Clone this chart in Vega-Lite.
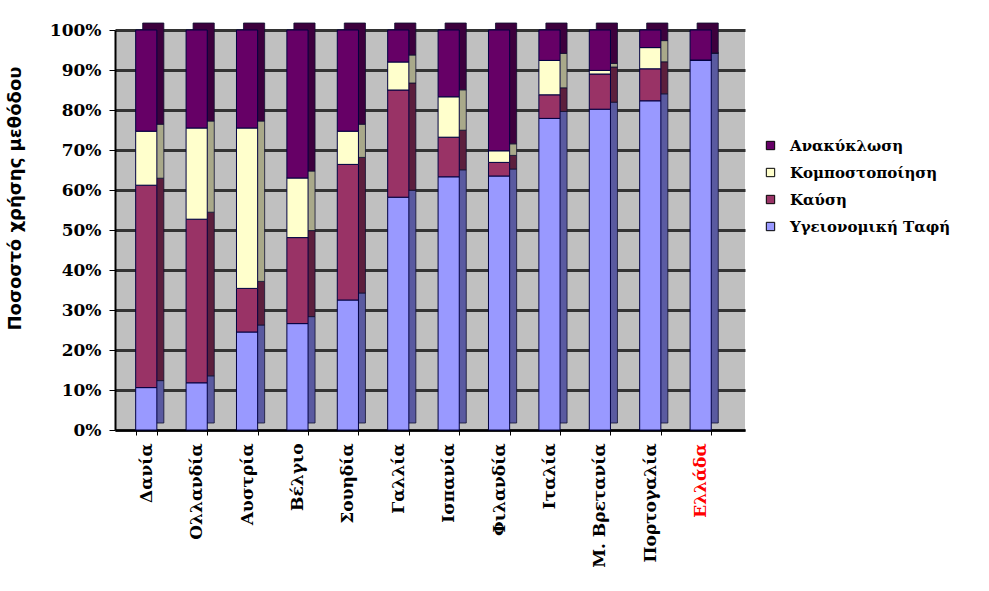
{
  "$schema": "https://vega.github.io/schema/vega-lite/v6.json",
  "autosize": "none",
  "width": 630,
  "height": 400,
  "padding": {"left": 115, "top": 30, "right": 244, "bottom": 161},
  "background": "white",
  "config": {
    "view": {"fill": "#c0c0c0", "stroke": null},
    "font": "DejaVu Serif"
  },
  "data": {
    "values": [
      {"country": "Δανία", "method": "Υγειονομική Ταφή", "value": 10.6, "ord": 1},
      {"country": "Δανία", "method": "Καύση", "value": 50.6, "ord": 2},
      {"country": "Δανία", "method": "Κομποστοποίηση", "value": 13.5, "ord": 3},
      {"country": "Δανία", "method": "Ανακύκλωση", "value": 25.3, "ord": 4},
      {"country": "Ολλανδία", "method": "Υγειονομική Ταφή", "value": 11.8, "ord": 1},
      {"country": "Ολλανδία", "method": "Καύση", "value": 40.9, "ord": 2},
      {"country": "Ολλανδία", "method": "Κομποστοποίηση", "value": 22.8, "ord": 3},
      {"country": "Ολλανδία", "method": "Ανακύκλωση", "value": 24.5, "ord": 4},
      {"country": "Αυστρία", "method": "Υγειονομική Ταφή", "value": 24.5, "ord": 1},
      {"country": "Αυστρία", "method": "Καύση", "value": 10.9, "ord": 2},
      {"country": "Αυστρία", "method": "Κομποστοποίηση", "value": 40.1, "ord": 3},
      {"country": "Αυστρία", "method": "Ανακύκλωση", "value": 24.5, "ord": 4},
      {"country": "Βέλγιο", "method": "Υγειονομική Ταφή", "value": 26.6, "ord": 1},
      {"country": "Βέλγιο", "method": "Καύση", "value": 21.5, "ord": 2},
      {"country": "Βέλγιο", "method": "Κομποστοποίηση", "value": 14.9, "ord": 3},
      {"country": "Βέλγιο", "method": "Ανακύκλωση", "value": 37.0, "ord": 4},
      {"country": "Σουηδία", "method": "Υγειονομική Ταφή", "value": 32.5, "ord": 1},
      {"country": "Σουηδία", "method": "Καύση", "value": 33.9, "ord": 2},
      {"country": "Σουηδία", "method": "Κομποστοποίηση", "value": 8.3, "ord": 3},
      {"country": "Σουηδία", "method": "Ανακύκλωση", "value": 25.3, "ord": 4},
      {"country": "Γαλλία", "method": "Υγειονομική Ταφή", "value": 58.2, "ord": 1},
      {"country": "Γαλλία", "method": "Καύση", "value": 26.8, "ord": 2},
      {"country": "Γαλλία", "method": "Κομποστοποίηση", "value": 7.0, "ord": 3},
      {"country": "Γαλλία", "method": "Ανακύκλωση", "value": 8.0, "ord": 4},
      {"country": "Ισπανία", "method": "Υγειονομική Ταφή", "value": 63.3, "ord": 1},
      {"country": "Ισπανία", "method": "Καύση", "value": 9.9, "ord": 2},
      {"country": "Ισπανία", "method": "Κομποστοποίηση", "value": 10.1, "ord": 3},
      {"country": "Ισπανία", "method": "Ανακύκλωση", "value": 16.7, "ord": 4},
      {"country": "Φιλανδία", "method": "Υγειονομική Ταφή", "value": 63.5, "ord": 1},
      {"country": "Φιλανδία", "method": "Καύση", "value": 3.4, "ord": 2},
      {"country": "Φιλανδία", "method": "Κομποστοποίηση", "value": 2.9, "ord": 3},
      {"country": "Φιλανδία", "method": "Ανακύκλωση", "value": 30.2, "ord": 4},
      {"country": "Ιταλία", "method": "Υγειονομική Ταφή", "value": 77.9, "ord": 1},
      {"country": "Ιταλία", "method": "Καύση", "value": 5.9, "ord": 2},
      {"country": "Ιταλία", "method": "Κομποστοποίηση", "value": 8.6, "ord": 3},
      {"country": "Ιταλία", "method": "Ανακύκλωση", "value": 7.6, "ord": 4},
      {"country": "Μ. Βρετανία", "method": "Υγειονομική Ταφή", "value": 80.2, "ord": 1},
      {"country": "Μ. Βρετανία", "method": "Καύση", "value": 8.8, "ord": 2},
      {"country": "Μ. Βρετανία", "method": "Κομποστοποίηση", "value": 0.9, "ord": 3},
      {"country": "Μ. Βρετανία", "method": "Ανακύκλωση", "value": 10.1, "ord": 4},
      {"country": "Πορτογαλία", "method": "Υγειονομική Ταφή", "value": 82.3, "ord": 1},
      {"country": "Πορτογαλία", "method": "Καύση", "value": 8.0, "ord": 2},
      {"country": "Πορτογαλία", "method": "Κομποστοποίηση", "value": 5.3, "ord": 3},
      {"country": "Πορτογαλία", "method": "Ανακύκλωση", "value": 4.4, "ord": 4},
      {"country": "Ελλάδα", "method": "Υγειονομική Ταφή", "value": 92.5, "ord": 1},
      {"country": "Ελλάδα", "method": "Καύση", "value": 0, "ord": 2},
      {"country": "Ελλάδα", "method": "Κομποστοποίηση", "value": 0, "ord": 3},
      {"country": "Ελλάδα", "method": "Ανακύκλωση", "value": 7.5, "ord": 4}
    ]
  },
  "encoding": {
    "x": {
      "field": "country",
      "type": "nominal",
      "sort": null,
      "scale": {"paddingInner": 0.58, "paddingOuter": 0.54, "align": 0.38},
      "axis": {
        "title": null,
        "labelAngle": -90,
        "labelAlign": "right",
        "labelBaseline": "middle",
        "labelPadding": 8,
        "labelFont": "DejaVu Serif",
        "labelFontWeight": "bold",
        "labelFontSize": 17,
        "labelColor": {"condition": {"test": "datum.value === 'Ελλάδα'", "value": "#ff0000"}, "value": "black"},
        "tickBand": "extent",
        "tickColor": "black",
        "tickSize": 5,
        "domainColor": "black",
        "domainWidth": 2,
        "grid": false
      }
    },
    "y": {
      "field": "value",
      "type": "quantitative",
      "stack": "normalize",
      "scale": {"domain": [0, 1]},
      "axis": {
        "title": "Ποσοστό χρήσης μεθόδου",
        "titleFont": "DejaVu Sans",
        "titleFontWeight": "bold",
        "titleFontSize": 18,
        "titleColor": "black",
        "titleX": -100,
        "titleY": 168,
        "titleAngle": -90,
        "titleAlign": "center",
        "titleBaseline": "middle",
        "values": [0, 0.1, 0.2, 0.3, 0.4, 0.5, 0.6, 0.7, 0.8, 0.9, 1],
        "format": ".0%",
        "labelFont": "DejaVu Serif",
        "labelFontWeight": "bold",
        "labelFontSize": 17,
        "labelColor": "black",
        "labelPadding": 8,
        "tickColor": "black",
        "tickSize": 6,
        "domainColor": "black",
        "domainWidth": 2,
        "grid": true,
        "gridColor": "#333333",
        "gridWidth": 3
      }
    },
    "order": {"field": "ord", "type": "quantitative"}
  },
  "layer": [
    {
      "mark": {"type": "bar", "xOffset": 7, "yOffset": -7, "stroke": "#101030", "strokeWidth": 0.8},
      "encoding": {
        "color": {
          "field": "method",
          "type": "nominal",
          "legend": null,
          "scale": {
            "domain": ["Ανακύκλωση", "Κομποστοποίηση", "Καύση", "Υγειονομική Ταφή"],
            "range": ["#3d003d", "#a9a98a", "#5c1f3d", "#5a5aa0"]
          }
        }
      }
    },
    {
      "mark": {"type": "bar", "stroke": "#000040", "strokeWidth": 1},
      "encoding": {
        "color": {
          "field": "method",
          "type": "nominal",
          "scale": {
            "domain": ["Ανακύκλωση", "Κομποστοποίηση", "Καύση", "Υγειονομική Ταφή"],
            "range": ["#660066", "#ffffcc", "#993366", "#9999ff"]
          },
          "legend": {
            "title": null,
            "orient": "none",
            "legendX": 648,
            "legendY": 108,
            "symbolType": "square",
            "symbolSize": 70,
            "symbolStrokeColor": "black",
            "symbolStrokeWidth": 1,
            "labelFont": "DejaVu Serif",
            "labelFontWeight": "bold",
            "labelFontSize": 15,
            "labelColor": "black",
            "labelOffset": 12,
            "labelLimit": 300,
            "rowPadding": 11
          }
        }
      }
    }
  ],
  "resolve": {"scale": {"color": "independent"}}
}
